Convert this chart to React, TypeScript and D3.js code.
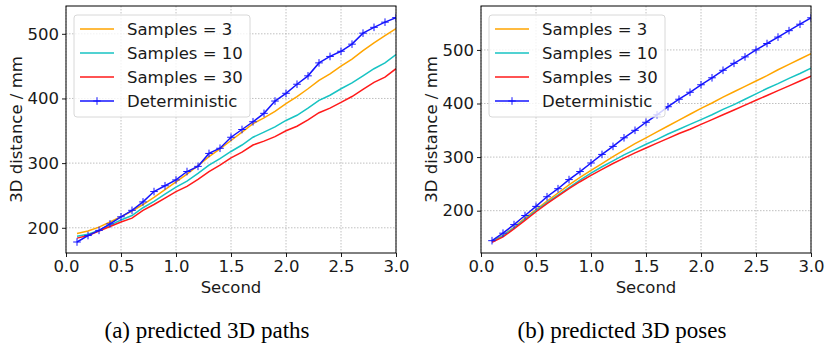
import { useRef, useEffect } from 'react';
import * as d3 from 'd3';

const SECONDS = [0.1, 0.2, 0.3, 0.4, 0.5, 0.6, 0.7, 0.8, 0.9, 1.0, 1.1, 1.2, 1.3, 1.4, 1.5,
  1.6, 1.7, 1.8, 1.9, 2.0, 2.1, 2.2, 2.3, 2.4, 2.5, 2.6, 2.7, 2.8, 2.9, 3.0];

// (a) predicted 3D paths
const PATHS_S3 = [191, 195, 201, 209, 217, 226, 236, 247, 259, 271, 283, 296, 310, 322, 335,
  348, 361, 370, 380, 392, 403, 415, 428, 438, 450, 461, 474, 486, 497, 508];
const PATHS_S10 = [187, 190, 196, 204, 212, 219, 231, 241, 252, 263, 272, 284, 297, 307, 318,
  328, 340, 348, 356, 366, 374, 385, 397, 405, 415, 424, 435, 446, 455, 468];
const PATHS_S30 = [184, 188, 195, 202, 209, 215, 227, 236, 246, 256, 264, 275, 287, 297, 308,
  317, 328, 334, 341, 350, 357, 367, 378, 385, 394, 403, 414, 425, 433, 446];
const PATHS_DET = [178, 188, 196, 206, 217, 227, 240, 256, 265, 274, 287, 295, 315, 323, 340,
  352, 364, 377, 396, 408, 422, 435, 455, 465, 473, 484, 501, 510, 518, 525];

// (b) predicted 3D poses
const POSES_S3 = [143, 154, 169, 186, 202, 218, 233, 248, 262, 275, 288, 301, 313, 325, 336,
  347, 358, 369, 380, 391, 401, 412, 422, 432, 442, 452, 463, 473, 483, 493];
const POSES_S10 = [142, 153, 168, 184, 200, 215, 229, 243, 257, 270, 282, 293, 304, 314, 324,
  333, 343, 352, 361, 370, 379, 389, 398, 408, 418, 428, 437, 447, 456, 466];
const POSES_S30 = [141, 151, 166, 182, 198, 213, 227, 241, 254, 266, 277, 288, 298, 308, 317,
  326, 335, 344, 352, 361, 370, 379, 388, 397, 406, 415, 424, 433, 442, 451];
const POSES_DET = [144, 158, 174, 191, 208, 226, 241, 258, 273, 289, 305, 320, 336, 350, 365,
  379, 394, 408, 421, 435, 448, 462, 475, 487, 500, 512, 524, 536, 548, 560];

const LABELS = ['Samples = 3', 'Samples = 10', 'Samples = 30', 'Deterministic'];
const COLORS = ['#ffa500', '#17c3c3', '#ff1a1a', '#1515ff'];
const X_TICKS = [0, 0.5, 1.0, 1.5, 2.0, 2.5, 3.0];
const Y_TICKS = [200, 300, 400, 500];
const CAPTIONS = ['(a) predicted 3D paths', '(b) predicted 3D poses'];

const FONT = '"DejaVu Sans", sans-serif';

interface PanelSpec {
  left: number;
  yDomain: [number, number];
  series: number[][];
  caption: string;
}

const PANELS: PanelSpec[] = [
  { left: 66, yDomain: [161, 543], series: [PATHS_S3, PATHS_S10, PATHS_S30, PATHS_DET], caption: CAPTIONS[0] },
  { left: 481, yDomain: [121, 582], series: [POSES_S3, POSES_S10, POSES_S30, POSES_DET], caption: CAPTIONS[1] },
];

export default function App() {
  const svgRef = useRef<SVGSVGElement>(null);

  useEffect(() => {
    document.body.style.margin = '0';
    if (!svgRef.current) return;
    const svg = d3.select(svgRef.current);
    svg.selectAll('*').remove();

    const plotW = 330;
    const top = 6;
    const bottom = 253;

    PANELS.forEach((p) => {
      const x = d3.scaleLinear().domain([0, 3]).range([p.left, p.left + plotW]);
      const y = d3.scaleLinear().domain(p.yDomain).range([bottom, top]);
      const g = svg.append('g');

      // grid
      g.selectAll('line.gx')
        .data(X_TICKS)
        .join('line')
        .attr('x1', (d) => x(d)).attr('x2', (d) => x(d))
        .attr('y1', top).attr('y2', bottom)
        .attr('stroke', '#b0b0b0').attr('stroke-width', 0.8)
        .attr('stroke-dasharray', '1.5,1.5');
      g.selectAll('line.gy')
        .data(Y_TICKS)
        .join('line')
        .attr('x1', p.left).attr('x2', p.left + plotW)
        .attr('y1', (d) => y(d)).attr('y2', (d) => y(d))
        .attr('stroke', '#b0b0b0').attr('stroke-width', 0.8)
        .attr('stroke-dasharray', '1.5,1.5');

      const clipId = `clip-${p.left}`;
      svg.append('clipPath').attr('id', clipId)
        .append('rect').attr('x', p.left).attr('y', top).attr('width', plotW).attr('height', bottom - top);

      const line = d3.line<number>().x((_, i) => x(SECONDS[i])).y((d) => y(d));
      const lines = g.append('g').attr('clip-path', `url(#${clipId})`);
      p.series.forEach((s, k) => {
        lines.append('path')
          .attr('d', line(s))
          .attr('fill', 'none')
          .attr('stroke', COLORS[k])
          .attr('stroke-width', 1.5);
      });
      // + markers on deterministic
      const det = p.series[3];
      const m = 3.8;
      lines.selectAll('path.mk')
        .data(det)
        .join('path')
        .attr('d', (d, i) => {
          const cx = x(SECONDS[i]);
          const cy = y(d);
          return `M${cx - m},${cy}H${cx + m}M${cx},${cy - m}V${cy + m}`;
        })
        .attr('stroke', COLORS[3])
        .attr('stroke-width', 1);

      // frame
      g.append('rect')
        .attr('x', p.left).attr('y', top).attr('width', plotW).attr('height', bottom - top)
        .attr('fill', 'none').attr('stroke', '#000').attr('stroke-width', 1);

      // axes
      const xAxis = g.append('g').attr('transform', `translate(0,${bottom})`)
        .call(d3.axisBottom(x).tickValues(X_TICKS).tickFormat(d3.format('.1f')).tickSize(4).tickPadding(3));
      const yAxis = g.append('g').attr('transform', `translate(${p.left},0)`)
        .call(d3.axisLeft(y).tickValues(Y_TICKS).tickSize(4).tickPadding(3));
      [xAxis, yAxis].forEach((a) => {
        a.select('.domain').remove();
        a.selectAll('line').attr('stroke', '#000').attr('stroke-width', 0.9);
        a.selectAll('text').attr('font-family', FONT).attr('font-size', 16.5).attr('fill', '#1a1a1a');
      });

      g.append('text')
        .attr('x', p.left + plotW / 2).attr('y', 293)
        .attr('text-anchor', 'middle')
        .attr('font-family', FONT).attr('font-size', 16.5).attr('fill', '#1a1a1a')
        .text('Second');
      g.append('text')
        .attr('transform', `translate(${p.left - 44},${(top + bottom) / 2}) rotate(-90)`)
        .attr('text-anchor', 'middle')
        .attr('font-family', FONT).attr('font-size', 16.5).attr('fill', '#1a1a1a')
        .text('3D distance / mm');

      // legend
      const lx = p.left + 8;
      const ly = 15;
      g.append('rect')
        .attr('x', lx).attr('y', ly).attr('width', 176).attr('height', 102).attr('rx', 3)
        .attr('fill', '#fff').attr('fill-opacity', 0.8)
        .attr('stroke', '#d8d8d8').attr('stroke-width', 1);
      LABELS.forEach((lab, k) => {
        const ry = ly + 14 + k * 24;
        g.append('line')
          .attr('x1', lx + 6).attr('x2', lx + 40).attr('y1', ry).attr('y2', ry)
          .attr('stroke', COLORS[k]).attr('stroke-width', 1.5);
        if (k === 3) {
          g.append('path')
            .attr('d', `M${lx + 23 - 3.8},${ry}H${lx + 23 + 3.8}M${lx + 23},${ry - 3.8}V${ry + 3.8}`)
            .attr('stroke', COLORS[3]).attr('stroke-width', 1);
        }
        g.append('text')
          .attr('x', lx + 53).attr('y', ry + 6)
          .attr('font-family', FONT).attr('font-size', 16.5).attr('fill', '#1a1a1a')
          .text(lab);
      });

      // caption
      svg.append('text')
        .attr('x', p.left + plotW / 2 - 24).attr('y', 338)
        .attr('text-anchor', 'middle')
        .attr('font-family', '"Liberation Serif", serif').attr('font-size', 23).attr('fill', '#000')
        .text(p.caption);
    });
  }, []);

  return <svg ref={svgRef} width={826} height={343} style={{ display: 'block', background: '#fff' }} />;
}
